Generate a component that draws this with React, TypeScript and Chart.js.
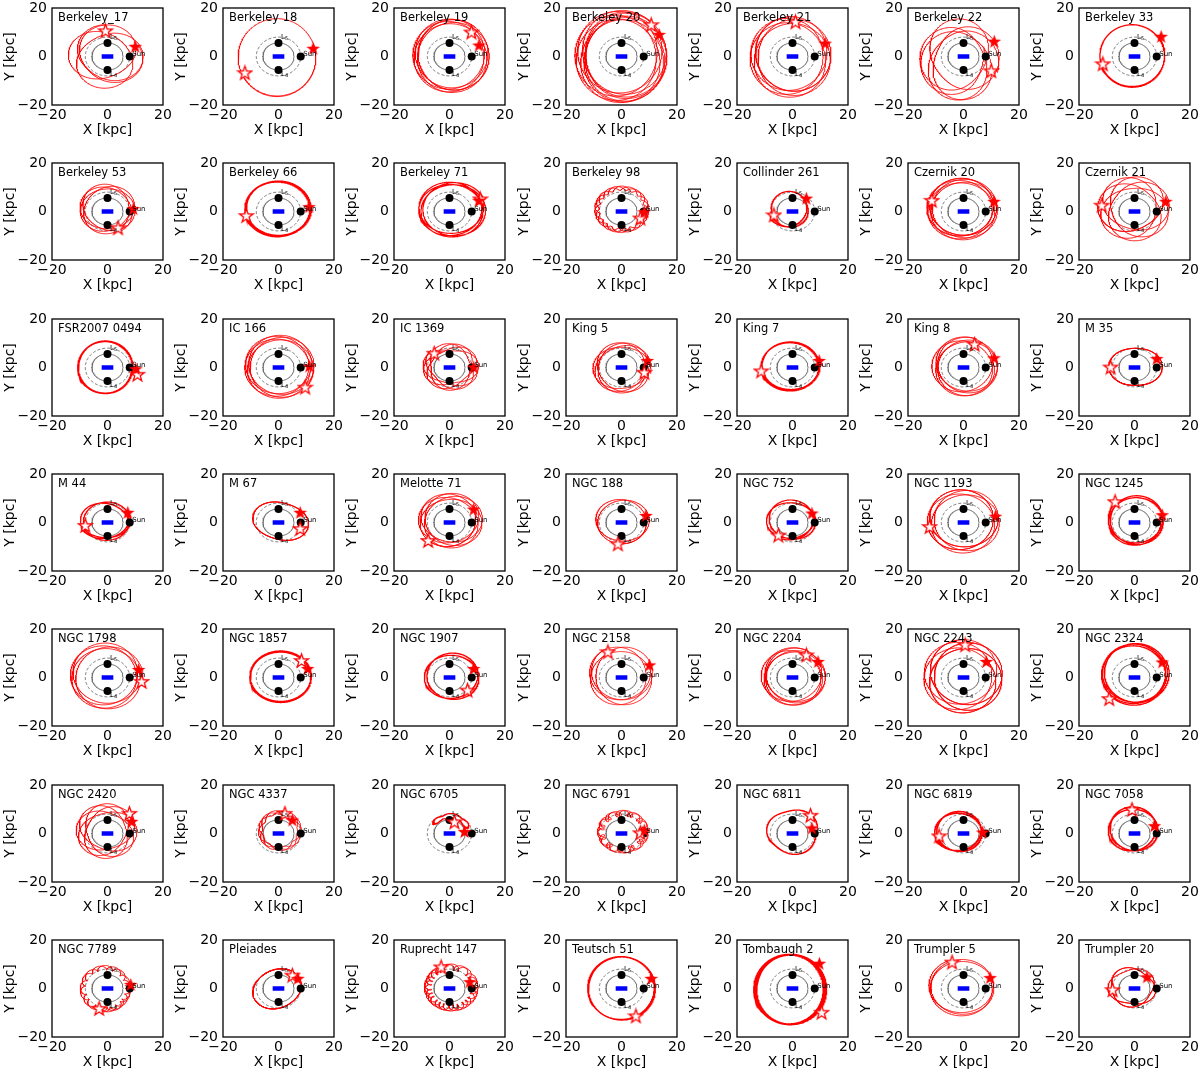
import React, { useEffect, useRef } from 'react';
import { Chart, registerables } from 'chart.js';

Chart.register(...registerables);

const FONT = 'DejaVu Sans';

// ---------- data ----------
const CLUSTERS = [
  'Berkeley_17', 'Berkeley 18', 'Berkeley 19', 'Berkeley 20', 'Berkeley 21', 'Berkeley 22', 'Berkeley 33',
  'Berkeley 53', 'Berkeley 66', 'Berkeley 71', 'Berkeley 98', 'Collinder 261', 'Czernik 20', 'Czernik 21',
  'FSR2007 0494', 'IC 166', 'IC 1369', 'King 5', 'King 7', 'King 8', 'M 35',
  'M 44', 'M 67', 'Melotte 71', 'NGC 188', 'NGC 752', 'NGC 1193', 'NGC 1245',
  'NGC 1798', 'NGC 1857', 'NGC 1907', 'NGC 2158', 'NGC 2204', 'NGC 2243', 'NGC 2324',
  'NGC 2420', 'NGC 4337', 'NGC 6705', 'NGC 6791', 'NGC 6811', 'NGC 6819', 'NGC 7058',
  'NGC 7789', 'Pleiades', 'Ruprecht 147', 'Teutsch 51', 'Tombaugh 2', 'Trumpler 5', 'Trumpler 20',
];

// orbit centre offset [kpc]
const CENTER_X = [
  -0.65, -0.15, 0.55, -0.2, -0.7, -1.4, -0.35,
  0, 0, 1, 0.1, -1.35, -0.45, -0.25,
  -1.0, 0.35, 0.45, 0.2, -0.4, 0.45, 0.4,
  -0.75, 0.8, 0.4, 0.3, -0.4, 0, 0.4,
  -0.3, 0.5, 0.9, -0.15, 0.3, -0.15, 0.4,
  -0.35, 0.5, 0, 0.55, 0.15, -1.75, -0.5,
  -0.75, -0.5, 0.65, 0.1, -0.85, -1.05, -0.85,
];
const CENTER_Y = [
  0, -0.4, 0.3, 0, -0.2, -1.25, 0.2,
  1.1, 0.9, 1, 0.9, 0.75, 1, 1.2,
  0.3, 0.3, 0.25, -0.1, 0.25, 0.45, 0.25,
  0.6, 0.55, 0.8, 0.55, 0.95, 0.55, 0.9,
  0.65, 0.35, 0.4, 0.8, 0.45, 0.5, 1.15,
  1, 1.25, 0, 0.75, 0.8, 0.75, 1.7,
  -0.1, -0.15, 0.4, 0.3, 0.15, 0.45, 0.6,
];
// mean orbit radii [kpc]
const RADIUS_X = [
  11.0, 14.0, 12.75, 14.6, 13.2, 11.3, 11.65,
  8.9, 11.7, 11.4, 8.9, 6.75, 11.75, 10.45,
  9.8, 11.55, 8.55, 9.5, 10.4, 10.65, 8.6,
  8.55, 9.3, 10.3, 9.2, 8.4, 11.8, 9.6,
  11.9, 11.0, 9.5, 10.35, 10.6, 12.35, 11.5,
  8.95, 7.0, 7.0, 8.0, 9.05, 8.25, 8.6,
  8.1, 8.7, 8.4, 12.0, 12.55, 11.35, 7.95,
];
const RADIUS_Y = [
  10.6, 16.0, 14.2, 17.0, 15.1, 13.75, 12.8,
  9.3, 11.2, 10.7, 8.7, 7.05, 11.7, 10.8,
  10.7, 12.0, 8.15, 9.4, 9.85, 10.95, 8.65,
  7.4, 8.35, 10.0, 8.75, 7.75, 11.85, 9.8,
  12.45, 10.35, 9.2, 11.2, 10.85, 13.1, 12.05,
  9.3, 7.55, 7.0, 7.6, 9.0, 7.95, 8.8,
  8.6, 8.05, 8.4, 13.0, 14.35, 11.05, 7.5,
];
// radial excursion (half width of the bundle) [kpc]
const SPREAD = [
  2.5, 0.4, 1.0, 2.0, 1.5, 3.0, 0.5,
  1.1, 0.4, 0.8, 0.9, 0.5, 1.0, 2.5,
  0.3, 1.0, 1.5, 1.0, 0.5, 1.2, 1.0,
  0.6, 1.0, 1.3, 0.6, 0.6, 1.3, 0.5,
  1.2, 0.3, 0.5, 1.3, 1.0, 2.0, 0.8,
  2.0, 0.8, 1.0, 1.2, 0.5, 0.4, 0.5,
  1.0, 0.8, 1.3, 0.3, 0.7, 0.7, 0.8,
];
// radial oscillations per revolution
const FREQ = [
  1.35, 1.1, 1.2, 1.15, 1.2, 1.3, 1.1,
  1.6, 1.1, 1.2, 7.3, 1.5, 1.2, 1.4,
  1.1, 1.2, 2.2, 1.8, 1.1, 1.3, 2,
  1.6, 2, 1.4, 1.5, 1.6, 1.25, 1.3,
  1.2, 1.1, 1.5, 1.3, 1.3, 1.2, 1.15,
  1.6, 4.3, 7, 11.3, 3, 1.5, 1.5,
  8.4, 2, 9.3, 1.1, 1.05, 1.2, 2.5,
];
// tangential epicycle amplitude [rad]
const SWING = [
  0, 0, 0, 0, 0, 0, 0,
  0, 0, 0, 0.08, 0, 0, 0,
  0, 0, 0.05, 0, 0, 0, 0,
  0, 0, 0, 0, 0, 0, 0,
  0, 0, 0, 0, 0, 0, 0,
  0, 0.08, 0.05, 0.17, 0.06, 0, 0,
  0.13, 0, 0.15, 0, 0, 0, 0.05,
];
// full revolutions drawn
const TURNS = [
  3, 1, 5, 8, 5, 5, 1,
  4, 3, 3, 3, 1, 6, 5,
  2, 5, 4, 4, 2, 4, 3,
  2, 3, 5, 2, 2, 5, 2,
  4, 2, 2, 3, 4, 7, 3,
  4, 2, 2, 2, 2, 2, 2,
  2, 3, 2, 3, 6, 2, 3,
];
// libration amplitude for trapped (banana) orbits [deg]
const LIBRATION = [
  0, 0, 0, 0, 0, 0, 0,
  0, 0, 0, 0, 0, 0, 0,
  0, 0, 0, 0, 0, 0, 0,
  0, 0, 0, 0, 0, 0, 0,
  0, 0, 0, 0, 0, 0, 0,
  0, 0, 68, 0, 0, 0, 0,
  0, 0, 0, 0, 0, 0, 0,
];
const LIBRATION_CENTER_DEG = 82;
const LINE_W = [
  0.9, 0.9, 0.9, 0.9, 0.9, 0.9, 1.3,
  0.9, 1.6, 1.1, 0.9, 1.3, 0.9, 0.9,
  1.6, 0.9, 0.9, 0.9, 1.5, 0.9, 0.9,
  1.2, 0.9, 0.9, 1.0, 1.2, 0.9, 1.3,
  0.9, 1.6, 1.3, 0.8, 0.9, 0.9, 1.3,
  0.9, 0.8, 1.1, 0.8, 1.3, 1.5, 1.4,
  0.9, 1.0, 0.9, 1.3, 1.6, 0.9, 1.0,
];
// present-day position (filled star)
const NOW_X = [
  10, 12.5, 10.6, 13.6, 11.8, 11.1, 9.6,
  9.3, 11, 10.6, 8.2, 5, 11, 11.3,
  10.2, 11.1, 8.7, 9.3, 9.6, 11, 8,
  7.3, 7.8, 8.7, 8.8, 7, 11.5, 10,
  11.2, 10.5, 8.7, 10.1, 9.2, 8.2, 10,
  8.7, 5, 5.4, 8.2, 7, 6.9, 7.2,
  8.4, 7, 7.3, 10.7, 9.7, 9.6, 4.5,
];
const NOW_Y = [
  4.2, 3.4, 4.7, 9.1, 5.5, 6.3, 8.3,
  1.2, 2, 4.6, -0.1, 5.5, 4.2, 4.2,
  -0.5, 0.6, 0.2, 2.9, 2.9, 4, 3.7,
  4.2, 4.2, 5.5, 2.9, 3.9, 2.6, 3.2,
  3.3, 3.7, 3.7, 5.2, 6.6, 6.6, 6.4,
  5, 5.6, 0.8, 1.4, 2.3, 0.6, 3.2,
  1.7, 4.2, 2.8, 4.2, 10.4, 4.5, 4.8,
];
// birth position (open star)
const BIRTH_X = [
  -0.7, -12.1, 7.9, 10.7, 1.1, 10, -11.4,
  3.8, -11.6, 11.1, 6.8, -6.7, -11.4, -11.8,
  10.8, 9.6, -5.5, 8.2, -11.3, 4, -8.6,
  -8, 7.8, -7.7, -1.3, -5.1, -12.2, -7,
  12.3, 8.3, 6.5, -4.9, 5, 0.6, -9.1,
  7.9, 2.3, 1.8, 6.8, 6.5, -8.8, -0.9,
  -3, 5, -3, 5.2, 10.5, -4.1, -7.9,
];
const BIRTH_Y = [
  10.6, -6.7, 10.1, 13.1, 14.3, -5.9, -3.0,
  -6.7, -1.7, 5.2, -2.7, -1.4, 4.6, 2.6,
  -2.8, -8.1, 5.9, -2, -1.4, 9.6, 0.2,
  -1.2, -2.5, -7.4, -8.8, -5.2, -1.7, 8.6,
  -1.6, 7, -5.2, 10.6, 9.3, 13.5, -8.7,
  8.3, 8.3, 4.8, 0.3, 7.5, -1, 9.9,
  -8.2, 5.5, 8.9, -11.3, -9.8, 10.9, -0.5,
];

// fixed Galactic features
const BAR_ENDS_X = [-2.1, 2.1];
const RING_RADII = [5.6, 8.0]; // solid, dashed
const LAGRANGE_X = [0, 0];
const LAGRANGE_Y = [5.6, -5.6];
const SUN_POS = [8, 0];
const SUN_LABEL_POS = [8.9, 1.1];
const L5_LABEL_POS = [0.9, 8.0];
const L4_LABEL_POS = [0.9, -7.3];
const AXIS_MIN = -20;
const AXIS_MAX = 20;
const AXIS_STEP = 20;

// ---------- layout ----------
const NCOLS = 7;
const COL_STEP = 171.2;
const ROW_STEP = 155.3;
const PANEL_W = 171;
const PANEL_H = 155;

type Pt = { x: number; y: number };

function orbitPoints(i: number): Pt[] {
  const cx = CENTER_X[i], cy = CENTER_Y[i];
  const rx = RADIUS_X[i], ry = RADIUS_Y[i];
  const dr = SPREAD[i], q = FREQ[i], b = SWING[i];
  const pts: Pt[] = [];
  const TAU = Math.PI * 2;
  if (LIBRATION[i] > 0) {
    const lib = (LIBRATION[i] * Math.PI) / 180;
    const c0 = (LIBRATION_CENTER_DEG * Math.PI) / 180;
    const span = TURNS[i] * TAU + Math.PI * 0.5;
    const n = Math.ceil((span / TAU) * 500);
    for (let k = 0; k <= n; k++) {
      const t = (span * k) / n;
      const decay = 1 - 0.12 * (k / n);
      const th = c0 + lib * decay * Math.sin(t) + b * Math.sin(q * t);
      const rr = dr * Math.cos(t) + 0.3 * Math.cos(q * t);
      pts.push({ x: cx + (rx + rr) * Math.cos(th), y: cy + (ry + rr) * Math.sin(th) });
    }
    return pts;
  }
  const a0 = Math.atan2((BIRTH_Y[i] - cy) / ry, (BIRTH_X[i] - cx) / rx);
  const a1 = Math.atan2((NOW_Y[i] - cy) / ry, (NOW_X[i] - cx) / rx);
  let d = a1 - a0;
  while (d < 0) d += TAU;
  const span = TURNS[i] * TAU + d;
  const n = Math.ceil((span / TAU) * Math.max(260, q * 70));
  for (let k = 0; k <= n; k++) {
    const t = (span * k) / n;
    const th = a0 + t + b * Math.sin(q * t);
    const rr = dr * Math.cos(q * t);
    pts.push({ x: cx + (rx + rr) * Math.cos(th), y: cy + (ry + rr) * Math.sin(th) });
  }
  return pts;
}

function ringPoints(r: number): Pt[] {
  const pts: Pt[] = [];
  const n = 160;
  for (let k = 0; k <= n; k++) {
    const a = (k / n) * Math.PI * 2;
    pts.push({ x: r * Math.cos(a), y: r * Math.sin(a) });
  }
  return pts;
}

function starImage(filled: boolean): HTMLCanvasElement {
  const s = 17;
  const c = document.createElement('canvas');
  c.width = s;
  c.height = s;
  const ctx = c.getContext('2d')!;
  const cx = s / 2, cy = s / 2 + 0.6;
  const R = 7.2, r = 2.9;
  ctx.beginPath();
  for (let k = 0; k < 10; k++) {
    const rad = k % 2 === 0 ? R : r;
    const a = -Math.PI / 2 + (k * Math.PI) / 5;
    const x = cx + rad * Math.cos(a), y = cy + rad * Math.sin(a);
    if (k === 0) ctx.moveTo(x, y);
    else ctx.lineTo(x, y);
  }
  ctx.closePath();
  ctx.lineJoin = 'miter';
  if (filled) {
    ctx.fillStyle = '#ff0000';
    ctx.fill();
  } else {
    ctx.fillStyle = '#ffffff';
    ctx.fill();
    ctx.strokeStyle = '#ff0000';
    ctx.lineWidth = 1.3;
    ctx.stroke();
  }
  return c;
}

const fmtTick = (v: number | string) => {
  const n = Number(v);
  return n < 0 ? '\u2212' + Math.abs(n) : String(n);
};

const framePlugin = {
  id: 'frame',
  afterDatasetsDraw(chart: any, _args: any, opts: any) {
    const { ctx, chartArea, scales } = chart;
    const { left, top, right, bottom } = chartArea;
    const xs = scales.x, ys = scales.y;
    ctx.save();
    ctx.fillStyle = '#000';
    ctx.textAlign = 'left';
    ctx.textBaseline = 'middle';
    ctx.font = `7px "${FONT}"`;
    ctx.fillText('Sun', xs.getPixelForValue(SUN_LABEL_POS[0]), ys.getPixelForValue(SUN_LABEL_POS[1]));
    const drawL = (pos: number[], sub: string) => {
      const px = xs.getPixelForValue(pos[0]);
      const py = ys.getPixelForValue(pos[1]);
      ctx.font = `7px "${FONT}"`;
      ctx.fillText('L', px, py);
      const w = ctx.measureText('L').width;
      ctx.font = `5px "${FONT}"`;
      ctx.fillText(sub, px + w, py + 2);
    };
    drawL(L5_LABEL_POS, '5');
    drawL(L4_LABEL_POS, '4');
    ctx.font = `11.5px "${FONT}"`;
    ctx.textBaseline = 'alphabetic';
    ctx.fillText(opts.name, left + 6, top + 12.5);
    ctx.strokeStyle = '#000';
    ctx.lineWidth = 1.3;
    ctx.strokeRect(left, top, right - left, bottom - top);
    ctx.restore();
  },
};

function makeConfig(i: number): any {
  const tickFont = { family: FONT, size: 14 };
  const common = {
    type: 'linear',
    min: AXIS_MIN,
    max: AXIS_MAX,
    grid: { display: false, drawTicks: false },
    border: { display: false },
  };
  return {
    type: 'scatter',
    data: {
      datasets: [
        {
          data: [{ x: NOW_X[i], y: NOW_Y[i] }],
          pointStyle: starImage(true),
          pointRadius: 7,
          showLine: false,
        },
        {
          data: [{ x: BIRTH_X[i], y: BIRTH_Y[i] }],
          pointStyle: starImage(false),
          pointRadius: 7,
          showLine: false,
        },
        {
          data: [
            { x: LAGRANGE_X[0], y: LAGRANGE_Y[0] },
            { x: LAGRANGE_X[1], y: LAGRANGE_Y[1] },
            { x: SUN_POS[0], y: SUN_POS[1] },
          ],
          pointStyle: 'circle',
          pointRadius: 4,
          backgroundColor: '#000',
          borderColor: '#000',
          borderWidth: 0,
          showLine: false,
        },
        {
          data: orbitPoints(i),
          showLine: true,
          pointRadius: 0,
          borderColor: '#ff0000',
          borderWidth: LINE_W[i],
          fill: false,
          tension: 0,
        },
        {
          data: [{ x: BAR_ENDS_X[0], y: 0 }, { x: BAR_ENDS_X[1], y: 0 }],
          showLine: true,
          pointRadius: 0,
          borderColor: '#0000ff',
          borderWidth: 4.5,
          borderCapStyle: 'butt',
        },
        {
          data: ringPoints(RING_RADII[0]),
          showLine: true,
          pointRadius: 0,
          borderColor: '#707070',
          borderWidth: 1,
        },
        {
          data: ringPoints(RING_RADII[1]),
          showLine: true,
          pointRadius: 0,
          borderColor: '#666666',
          borderWidth: 0.9,
          borderDash: [3, 2],
        },
      ],
    },
    options: {
      animation: false,
      responsive: false,
      maintainAspectRatio: false,
      devicePixelRatio: 1,
      events: [],
      layout: { padding: { left: 0, top: 6, right: 7, bottom: 16 } },
      plugins: {
        legend: { display: false },
        tooltip: { enabled: false },
        frame: { name: CLUSTERS[i] },
      },
      scales: {
        x: {
          ...common,
          position: 'bottom',
          ticks: {
            stepSize: AXIS_STEP,
            autoSkip: false,
            maxRotation: 0,
            padding: 2,
            color: '#000',
            font: tickFont,
            callback: fmtTick,
          },
          title: { display: true, text: 'X [kpc]', color: '#000', font: tickFont, padding: 0 },
          afterFit(s: any) {
            s.height = 34;
            s.paddingLeft = 0;
            s.paddingRight = 0;
          },
        },
        y: {
          ...common,
          position: 'left',
          ticks: {
            stepSize: AXIS_STEP,
            autoSkip: false,
            padding: 5,
            color: '#000',
            font: tickFont,
            callback: fmtTick,
          },
          title: { display: true, text: 'Y [kpc]', color: '#000', font: tickFont, padding: { top: 2, bottom: 0 } },
          afterFit(s: any) {
            s.width = 52;
            s.paddingTop = 0;
            s.paddingBottom = 0;
          },
        },
      },
    },
    plugins: [framePlugin],
  };
}

function Panel({ index }: { index: number }) {
  const ref = useRef<HTMLCanvasElement>(null);
  useEffect(() => {
    if (!ref.current) return;
    const chart = new Chart(ref.current, makeConfig(index));
    return () => chart.destroy();
  }, [index]);
  const col = index % NCOLS;
  const row = Math.floor(index / NCOLS);
  return (
    <canvas
      ref={ref}
      width={PANEL_W}
      height={PANEL_H}
      style={{
        position: 'absolute',
        left: Math.round(col * COL_STEP),
        top: Math.round(row * ROW_STEP),
        width: PANEL_W,
        height: PANEL_H,
      }}
    />
  );
}

export default function App() {
  return (
    <div
      style={{
        position: 'fixed',
        left: 0,
        top: 0,
        width: 1200,
        height: 1073,
        overflow: 'hidden',
        background: '#fff',
      }}
    >
      {CLUSTERS.map((_, i) => (
        <Panel key={i} index={i} />
      ))}
    </div>
  );
}
